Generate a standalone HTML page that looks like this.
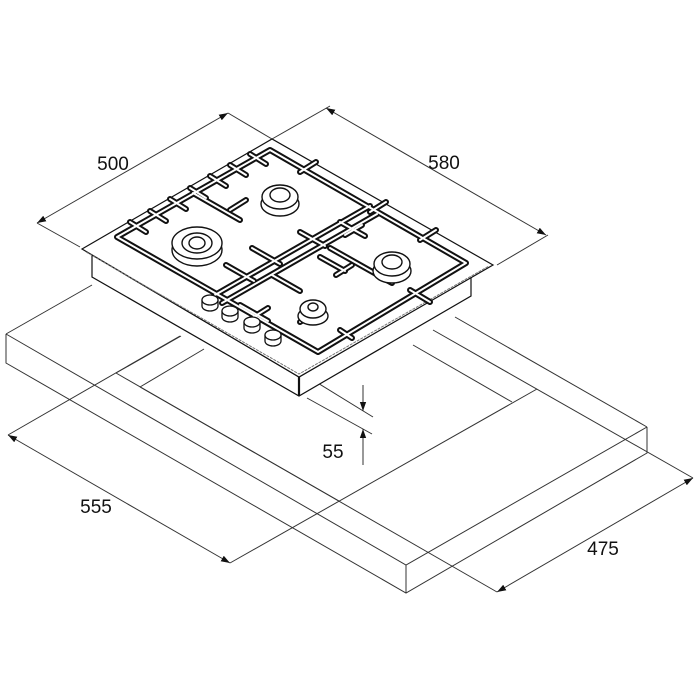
<!DOCTYPE html>
<html><head><meta charset="utf-8"><style>
html,body{margin:0;padding:0;background:#fff;}
svg{display:block;}
text{font-family:"Liberation Sans",sans-serif;font-size:19px;fill:#111;}
</style></head><body>
<svg width="700" height="700" viewBox="0 0 700 700" xmlns="http://www.w3.org/2000/svg">
<defs>
<marker id="ar" viewBox="0 0 10 10" refX="10" refY="5" markerWidth="9" markerHeight="9" orient="auto-start-reverse" markerUnits="userSpaceOnUse"><path d="M0,1.5 L10,5 L0,8.5 Z" fill="#111"/></marker>
</defs>
<g stroke="#333" stroke-width="1" fill="none">
<path d="M6,334 L92,285"/>
<path d="M6,334 L406,565 L647,427"/>
<path d="M6,334 V363 L406,593 L647,453 V427"/>
<path d="M406,565 V593"/>
<path d="M455,317 L647,427"/>
<path d="M116,373 L181,336"/>
<path d="M140,387 L204,349"/>
<path d="M116,373 L497,592"/>
<path d="M140,387 L339,501"/>
<path d="M433,330 L693,478"/>
<path d="M413,345 L512,402"/>
<path d="M537,389 L230,563"/>
<path d="M180,336 L8,435"/>
<path d="M8,435 L230,563" marker-start="url(#ar)" marker-end="url(#ar)"/>
<path d="M497,592 L693,478" marker-start="url(#ar)" marker-end="url(#ar)"/>
<path d="M37,223 L80,247"/>
<path d="M228,113 L272,139"/>
<path d="M37,223 L228,113" marker-start="url(#ar)" marker-end="url(#ar)"/>
<path d="M272,139 L330,106"/>
<path d="M497,265 L548,235"/>
<path d="M326,108 L546,235" marker-start="url(#ar)" marker-end="url(#ar)"/>
<path d="M308,377 L373,417"/>
<path d="M307,398 L372,434"/>
<path d="M363,385 V411" marker-end="url(#ar)"/>
<path d="M363,465 V429" marker-end="url(#ar)"/>
</g>
<g stroke="#111" fill="#fff" stroke-width="1.2">
<path d="M92,255 L299,377 L471,277 L471,296 L299,396 L92,277 Z"/>
<path d="M299,377 V396" stroke-width="2.2"/>
<path d="M82,249 L272,139 L493,265 L299,377 Z"/>
<path d="M86,252 L299,374 L489,266" stroke="#777" stroke-width="1" fill="none" stroke-dasharray="3 1"/>
</g>
<g fill="none" stroke-linecap="round" stroke-linejoin="round">
<g stroke="#111" stroke-width="6">
<path d="M117,237 L270,150 L466,263 L318,352 Z"/>
<path d="M215,295 L370,206"/>
<path d="M222,303 L377,214"/>
<path d="M193,193 L240,220"/>
<path d="M330,248 L392,283"/>
<path d="M130,222 L146,232"/><path d="M150,211 L166,221"/><path d="M170,199 L186,209"/><path d="M190,188 L206,198"/><path d="M210,176 L226,186"/><path d="M230,165 L246,175"/><path d="M250,154 L266,164"/>
<path d="M300,172 L316,162"/><path d="M370,212 L386,202"/><path d="M420,240 L436,230"/>
<path d="M252,248 L280,264"/><path d="M272,275 L300,291"/><path d="M240,305 L268,321"/><path d="M226,265 L254,281"/>
<path d="M300,232 L325,246"/><path d="M320,257 L345,271"/><path d="M340,222 L365,236"/>
<path d="M345,235 L362,225"/><path d="M230,210 L246,200"/><path d="M336,275 L352,265"/><path d="M252,318 L268,308"/>
<path d="M340,330 L352,338"/><path d="M410,290 L430,302"/><path d="M300,322 L316,312"/>
</g>
<g stroke="#fff" stroke-width="2">
<path d="M117,237 L270,150 L466,263 L318,352 Z"/>
<path d="M215,295 L370,206"/>
<path d="M222,303 L377,214"/>
<path d="M193,193 L240,220"/>
<path d="M330,248 L392,283"/>
<path d="M130,222 L146,232"/><path d="M150,211 L166,221"/><path d="M170,199 L186,209"/><path d="M190,188 L206,198"/><path d="M210,176 L226,186"/><path d="M230,165 L246,175"/><path d="M250,154 L266,164"/>
<path d="M300,172 L316,162"/><path d="M370,212 L386,202"/><path d="M420,240 L436,230"/>
<path d="M252,248 L280,264"/><path d="M272,275 L300,291"/><path d="M240,305 L268,321"/><path d="M226,265 L254,281"/>
<path d="M300,232 L325,246"/><path d="M320,257 L345,271"/><path d="M340,222 L365,236"/>
<path d="M345,235 L362,225"/><path d="M230,210 L246,200"/><path d="M336,275 L352,265"/><path d="M252,318 L268,308"/>
<path d="M340,330 L352,338"/><path d="M410,290 L430,302"/><path d="M300,322 L316,312"/>
</g>
</g>
<g stroke="#111" fill="#fff" stroke-width="1.4">
<ellipse cx="197" cy="250" rx="25" ry="16"/>
<ellipse cx="197" cy="243" rx="25" ry="16"/>
<ellipse cx="197" cy="243" rx="15" ry="10"/>
<ellipse cx="197" cy="243" rx="8" ry="6"/>
<ellipse cx="280" cy="204" rx="19" ry="12"/>
<ellipse cx="280" cy="197" rx="18" ry="12"/>
<ellipse cx="280" cy="195" rx="10" ry="7"/>
<ellipse cx="392" cy="271" rx="19" ry="12"/>
<ellipse cx="392" cy="264" rx="18" ry="12"/>
<ellipse cx="392" cy="262" rx="10" ry="7"/>
<ellipse cx="313" cy="316" rx="15" ry="9"/>
<ellipse cx="313" cy="309" rx="13" ry="9"/>
<ellipse cx="313" cy="307" rx="5" ry="4"/>
</g>
<g stroke="#111" fill="#fff" stroke-width="1.3">
<path d="M202,300 v6 a8,5 0 0 0 16,0 v-6"/><ellipse cx="210" cy="300" rx="8" ry="5"/>
<path d="M222,311 v6 a8,5 0 0 0 16,0 v-6"/><ellipse cx="230" cy="311" rx="8" ry="5"/>
<path d="M244,322 v6 a8,5 0 0 0 16,0 v-6"/><ellipse cx="252" cy="322" rx="8" ry="5"/>
<path d="M265,335 v6 a8,5 0 0 0 16,0 v-6"/><ellipse cx="273" cy="335" rx="8" ry="5"/>
</g>
<text x="113" y="170" text-anchor="middle">500</text>
<text x="444" y="169" text-anchor="middle">580</text>
<text x="333" y="458" text-anchor="middle">55</text>
<text x="96" y="513" text-anchor="middle">555</text>
<text x="603" y="555" text-anchor="middle">475</text>
</svg>
</body></html>
